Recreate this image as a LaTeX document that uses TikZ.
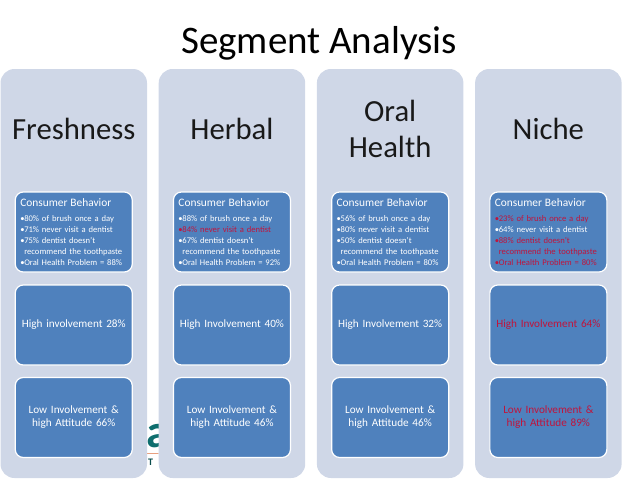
\documentclass[tikz,border=0pt]{standalone}
\usepackage{fontspec}
\setmainfont{Carlito}
\usetikzlibrary{positioning,calc}
\definecolor{panelblue}{HTML}{CFD7E7}
\definecolor{boxblue}{HTML}{4F81BD}
\definecolor{alertred}{HTML}{C0143C}
\definecolor{logoteal}{HTML}{0E6E6E}
\definecolor{logoorange}{HTML}{E8A080}
\newcommand{\bu}{\makebox[4pt][l]{•}}
\newcommand{\rd}[1]{\textcolor{alertred}{#1}}
\tikzset{
  panel/.style   ={fill=panelblue, rounded corners=14pt, minimum width=146.5pt,
                   minimum height=409pt, outer sep=0pt, inner sep=0pt},
  segname/.style ={font=\fontsize{30.7}{36}\selectfont, text=black!90, align=center},
  blubox/.style  ={fill=boxblue, draw=white, line width=1.2pt, rounded corners=8pt,
                   minimum width=117pt, minimum height=80pt, outer sep=0pt,
                   inner xsep=5pt, inner ysep=0pt, text width=107pt, text=white},
  listbox/.style ={blubox, align=left, font=\fontsize{8.6}{11.1}\selectfont},
  midbox/.style  ={blubox, align=center, font=\fontsize{11.2}{13}\selectfont},
  alert/.style   ={text=alertred},
}
\newcommand{\cb}{{\fontsize{11.4}{13}\selectfont Consumer Behavior}\\[4pt]}

\begin{document}
\begin{tikzpicture}[x=1pt,y=1pt]
\useasboundingbox (0,0) rectangle (638,-479);

% ---- logo in the gap ----
\begin{scope}
\clip (147,-415) rectangle (158.5,-475);
\node[anchor=base west, inner sep=0pt, font=\fontsize{47}{47}\selectfont\bfseries, text=logoteal] (logoa) at (146.5,-447) {a};
\node[anchor=base, inner sep=0pt, font=\fontsize{10}{10}\selectfont\bfseries, text=logoteal!70!black] (logot) at (150.5,-465.5) {T};
\coordinate (logol) at (147,-453);
\coordinate (logor) at (158.5,-453);
\draw[logoorange, line width=1pt] (logol) -- (logor);
\end{scope}

\node[font=\fontsize{39}{40}\selectfont, text=black] (title) at (319,-43.5) {Segment Analysis};

% ---- panels ----
\node[panel] (fresh) at (73.75,-273.5) {};
\node[panel, right=11.7pt of fresh] (herbal) {};
\node[panel, right=11.7pt of herbal] (oral) {};
\node[panel, right=11.7pt of oral] (niche) {};

\node[segname] (freshT) at ($(fresh.north)+(0,-60)$) {Freshness};
\node[segname] (herbalT) at ($(herbal.north)+(0,-60)$) {Herbal};
\node[segname] (oralT) at ($(oral.north)+(0,-60)$) {Oral\\Health};
\node[segname] (nicheT) at ($(niche.north)+(0,-60)$) {Niche};

% ---- freshness ----
\node[listbox, below=123pt of fresh.north] (freshA) {\cb
  \bu 80\% of brush once a day\\
  \bu 71\% never visit a dentist\\
  \bu 75\% dentist doesn’t\\
  \hspace*{4pt}recommend the toothpaste\\
  \bu Oral Health Problem = 88\%};
\node[midbox, below=13pt of freshA] (freshB) {High involvement 28\%};
\node[midbox, below=12.5pt of freshB] (freshC) {Low Involvement \&\\high Attitude 66\%};

% ---- herbal ----
\node[listbox, below=123pt of herbal.north] (herbalA) {\cb
  \bu 88\% of brush once a day\\
  \rd{\bu 84\% never visit a dentist}\\
  \bu 67\% dentist doesn’t\\
  \hspace*{4pt}recommend the toothpaste\\
  \bu Oral Health Problem = 92\%};
\node[midbox, below=13pt of herbalA] (herbalB) {High Involvement 40\%};
\node[midbox, below=12.5pt of herbalB] (herbalC) {Low Involvement \&\\high Attitude 46\%};

% ---- oral health ----
\node[listbox, below=123pt of oral.north] (oralA) {\cb
  \bu 56\% of brush once a day\\
  \bu 80\% never visit a dentist\\
  \bu 50\% dentist doesn’t\\
  \hspace*{4pt}recommend the toothpaste\\
  \bu Oral Health Problem = 80\%};
\node[midbox, below=13pt of oralA] (oralB) {High Involvement 32\%};
\node[midbox, below=12.5pt of oralB] (oralC) {Low Involvement \&\\high Attitude 46\%};

% ---- niche ----
\node[listbox, below=123pt of niche.north] (nicheA) {\cb
  \rd{\bu 23\% of brush once a day}\\
  \bu 64\% never visit a dentist\\
  \rd{\bu 88\% dentist doesn’t}\\
  \rd{\hspace*{4pt}recommend the toothpaste}\\
  \rd{\bu Oral Health Problem = 80\%}};
\node[midbox, alert, below=13pt of nicheA] (nicheB) {High Involvement 64\%};
\node[midbox, alert, below=12.5pt of nicheB] (nicheC) {Low Involvement \&\\high Attitude 89\%};

\end{tikzpicture}
\end{document}
